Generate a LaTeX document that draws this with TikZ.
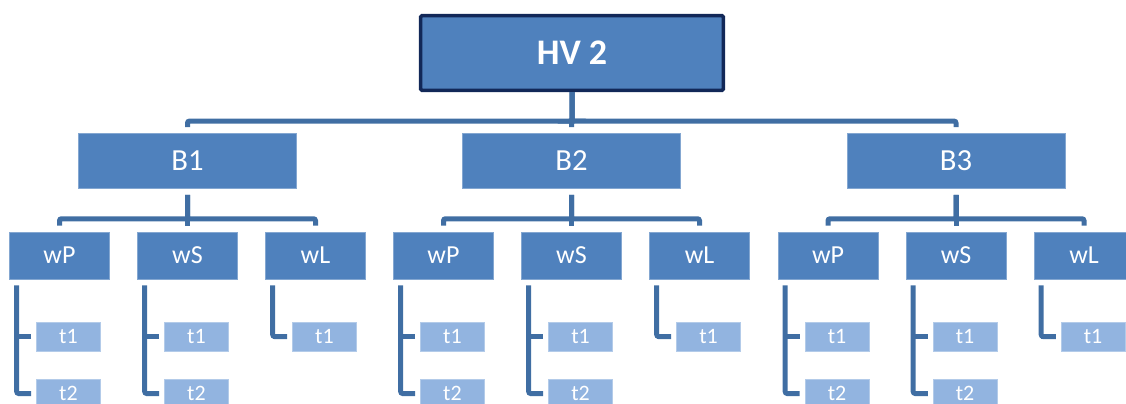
\documentclass[tikz,border=0pt]{standalone}
\usepackage{fontspec}
\setmainfont{Carlito}
\definecolor{boxblue}{RGB}{79,129,189}
\definecolor{lineblue}{RGB}{64,110,163}
\definecolor{navyedge}{RGB}{18,40,88}
\definecolor{leafblue}{RGB}{146,180,224}
\begin{document}
\begin{tikzpicture}[
  x=0.75pt, y=-0.75pt,
  every node/.style={rectangle, text=white, inner sep=0pt},
  topbox/.style={fill=boxblue, draw=navyedge, line width=2.6pt, rounded corners=1pt,
    minimum width=227pt, minimum height=56pt, font=\fontsize{27}{32}\selectfont\bfseries},
  midbox/.style={fill=boxblue, draw=boxblue!70!white, line width=0.4pt,
    minimum width=163.5pt, minimum height=41.25pt, font=\fontsize{23}{28}\selectfont},
  wbox/.style={fill=boxblue, draw=boxblue!70!white, line width=0.4pt,
    minimum width=75pt, minimum height=35.25pt, font=\fontsize{19.5}{24}\selectfont},
  leafbox/.style={fill=leafblue, draw=leafblue!70!white, line width=0.4pt,
    minimum width=48pt, minimum height=21.75pt, font=\fontsize{16.5}{20}\selectfont},
  conn/.style={draw=lineblue, line width=3.75pt, rounded corners=1.5pt}
]
  \clip (0,0) rectangle (1126,403);

  % Root
  \node[topbox] (hv) at (572,53) {HV 2};

  % Branches
  \foreach \b/\bx in {1/187.5, 2/571.5, 3/956} {
    \node[midbox] (b\b) at (\bx,161) {B\b};
    \draw[conn] (hv.south) -- ++(0,29) -| ([yshift=4.5pt]b\b.north);

    % children and their leaves
    \foreach \c/\lbl/\dx/\nt in {p/wP/-128/2, s/wS/0/2, l/wL/128/1} {
      \node[wbox] (b\b-\c) at (\bx+\dx,255.5) {\lbl};
      \draw[conn] ([yshift=-4.5pt]b\b.south) -- ++(0,24) -| ([yshift=4.5pt]b\b-\c.north);
      \foreach \t in {1,...,\nt}
        \node[leafbox] (b\b-\c-t\t) at (\bx+\dx+9,279.5+57*\t) {t\t};
      \draw[conn] ([shift={(5.6pt,-4.5pt)}]b\b-\c.south west) |- ([xshift=-3.75pt]b\b-\c-t\nt.west);
      \draw[conn] ([xshift=-3.75pt]b\b-\c-t1.west) -- ++(-14.5,0);
    }
  }
\end{tikzpicture}
\end{document}
